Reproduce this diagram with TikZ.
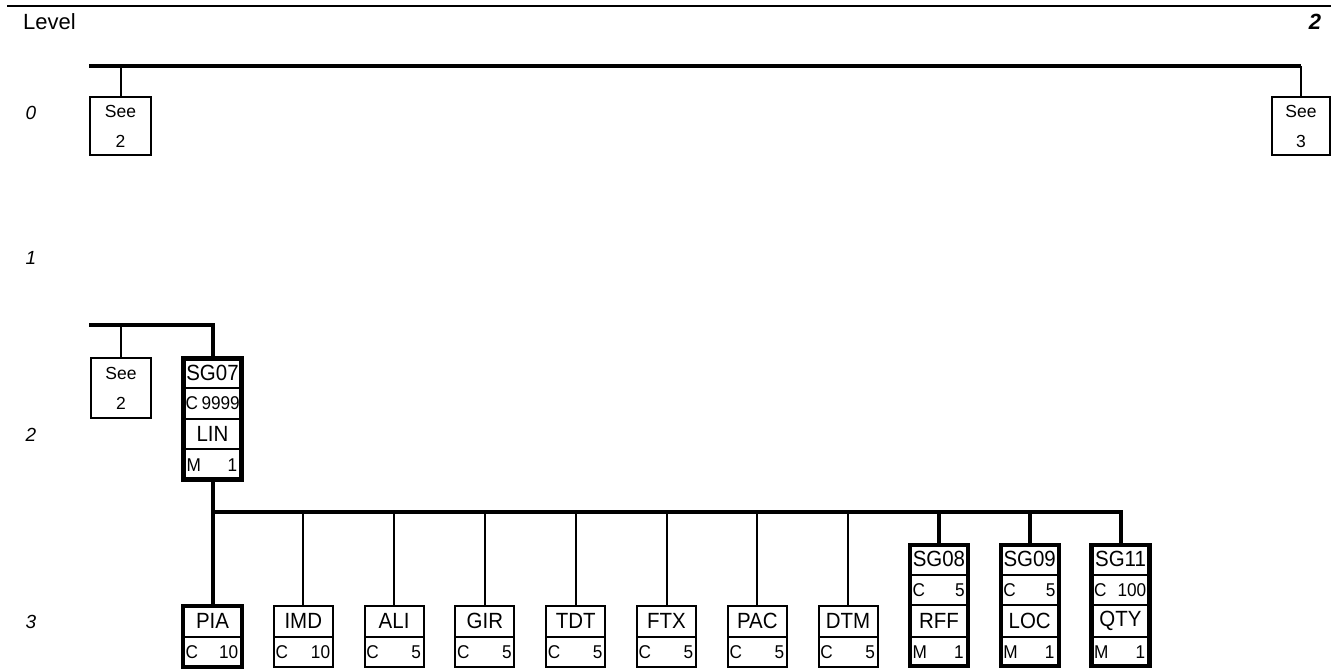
\documentclass[tikz,border=0pt]{standalone}
\usepackage{fontspec}
\setmainfont{Liberation Sans}
\newfontfamily\boxfont[FakeStretch=0.93]{Liberation Sans}
\usetikzlibrary{positioning}

\tikzset{
  bus/.style={line width=4pt,line join=miter},
  stem/.style={line width=2pt},
  plain/.style={line width=2pt},
  heavy/.style={line width=4.2pt},
  seebox/.style={draw,line width=2pt,outer sep=0pt,minimum height=58pt,inner sep=0pt,align=center,font=\fontsize{17.5}{30}\selectfont},
  fieldbox/.style={draw,outer sep=0pt,minimum width=59pt,minimum height=61pt,inner sep=0pt},
  groupbox/.style={draw,heavy,outer sep=0pt,minimum width=58pt,minimum height=121pt,inner sep=0pt},
  tagtxt/.style={inner sep=0pt,font=\boxfont\fontsize{22}{22}\selectfont},
  cnttxt/.style={inner sep=0pt,font=\boxfont\fontsize{18.5}{18.5}\selectfont},
  lvltxt/.style={inner sep=0pt,font=\fontsize{19}{19}\selectfont\itshape}
}

\begin{document}
\begin{tikzpicture}[x=1pt,y=-1pt]
\useasboundingbox (0,0) rectangle (1339,671);
\draw[line width=2pt] (7,6) -- (1331,6);
\node[inner sep=0pt,anchor=west,font=\fontsize{22}{22}\selectfont] (level) at (23,22) {Level};
\node[inner sep=0pt,font=\fontsize{22}{22}\selectfont\bfseries\itshape] (page) at (1315,22) {2};
\node[lvltxt] (lvl0) at (31,113) {0};
\node[lvltxt] (lvl1) at (31,258) {1};
\node[lvltxt] (lvl2) at (31,435) {2};
\node[lvltxt] (lvl3) at (31,622) {3};

\node[seebox,minimum width=61pt] (see0a) at (120.5,126) {See\\2};
\node[seebox,minimum width=58pt] (see0b) at (1301,126) {See\\3};
\coordinate (b0) at (89,66);
\coordinate (b0e) at (1301,66);
\draw[bus] (b0) -- (b0e);
\draw[stem] (see0a.north |- b0) -- (see0a.north);
\draw[stem] (b0e) -- (see0b.north);

\node[seebox,minimum width=60pt,minimum height=60pt] (see2) at (121,388) {See\\2};
\node[groupbox] (sg07) at (212.5,419) {};
\foreach \yy in {388,419,449}
  \draw[stem] (sg07.west |- 0,\yy) -- (sg07.east |- 0,\yy);
\node[tagtxt] at (212.5,372.5) {SG07};
\node[cnttxt,anchor=west,xshift=2pt] at (sg07.west |- 0,403.5) {C};
\node[cnttxt,anchor=east,xshift=-1.5pt] at (sg07.east |- 0,403.5) {9999};
\node[tagtxt] at (212.5,434) {LIN};
\node[cnttxt,anchor=west,xshift=3pt] at (sg07.west |- 0,465) {M};
\node[cnttxt,anchor=east,xshift=-4pt] at (sg07.east |- 0,465) {1};
\coordinate (b2) at (89,325);
\draw[bus] (b2) -- (sg07.north |- b2) -- (sg07.north);
\draw[stem] (see2.north |- b2) -- (see2.north);

\foreach \name/\tag/\num/\sty/\pad [count=\i from 0] in {pia/PIA/10/heavy/2.5,imd/IMD/10/plain/1.5,ali/ALI/5/plain/1.5,gir/GIR/5/plain/1.5,tdt/TDT/5/plain/1.5,ftx/FTX/5/plain/1.5,pac/PAC/5/plain/1.5,dtm/DTM/5/plain/1.5} {
  \node[fieldbox,\sty] (\name) at (212.5+90.8*\i,636.5) {};
  \draw[stem] (\name.west) -- (\name.east);
  \node[tagtxt] at (212.5+90.8*\i,621) {\tag};
  \node[cnttxt,anchor=west,xshift=\pad pt] at (\name.west |- 0,652.5) {C};
  \node[cnttxt,anchor=east,xshift=-\pad pt-1pt] at (\name.east |- 0,652.5) {\num};
}

\foreach \name/\tag/\num/\seg [count=\i from 8] in {sg08/SG08/5/RFF,sg09/SG09/5/LOC,sg11/SG11/100/QTY} {
  \node[groupbox] (\name) at (212.5+90.8*\i,605.5) {};
  \foreach \yy in {575,605,637}
    \draw[stem] (\name.west |- 0,\yy) -- (\name.east |- 0,\yy);
  \node[tagtxt] at (212.5+90.8*\i,559) {\tag};
  \node[cnttxt,anchor=west,xshift=2.5pt] at (\name.west |- 0,590) {C};
  \node[cnttxt,anchor=east,xshift=-3pt] at (\name.east |- 0,590) {\num};
  \node[tagtxt] at (212.5+90.8*\i,621) {\seg};
  \node[cnttxt,anchor=west,xshift=2.5pt] at (\name.west |- 0,652.5) {M};
  \node[cnttxt,anchor=east,xshift=-4pt] at (\name.east |- 0,652.5) {1};
}

\draw[bus] (sg07.south) -- (pia.north);
\coordinate (b3) at (212.5,512);
\draw[bus] (b3) -- (sg11.north |- b3) -- (sg11.north);
\foreach \name in {imd,ali,gir,tdt,ftx,pac,dtm}
  \draw[stem] (\name.north |- b3) -- (\name.north);
\foreach \name in {sg08,sg09}
  \draw[bus] (\name.north |- b3) -- (\name.north);
\end{tikzpicture}
\end{document}
